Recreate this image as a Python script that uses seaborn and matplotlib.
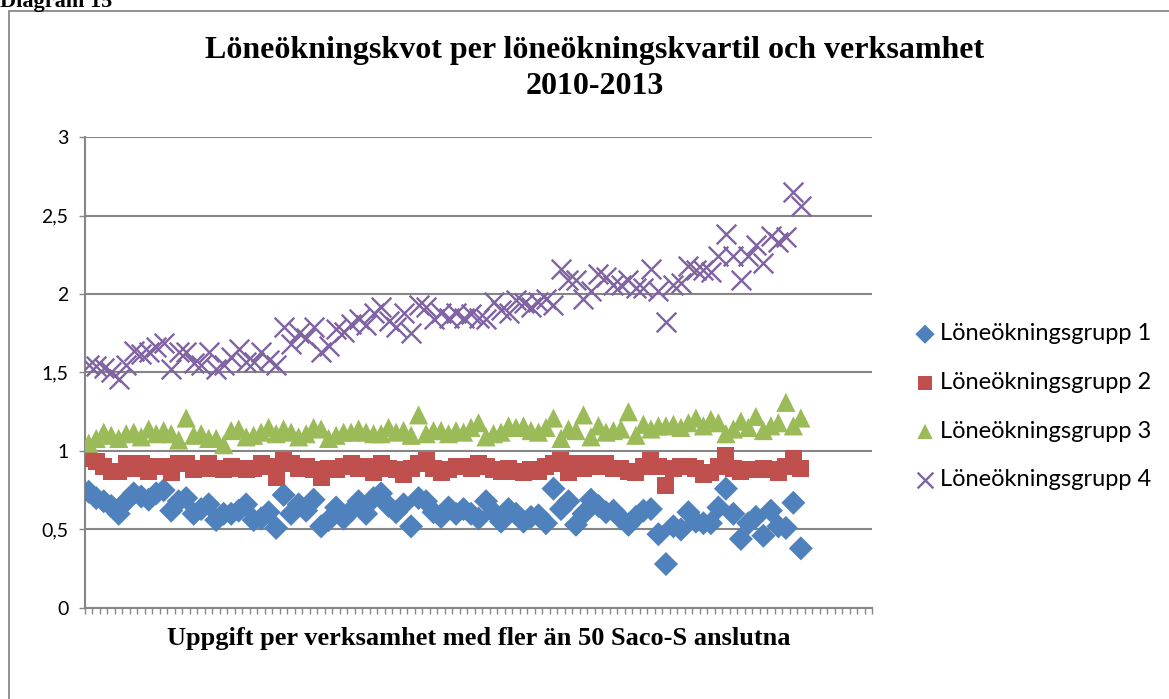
import numpy as np
import pandas as pd
import seaborn as sns
import matplotlib.pyplot as plt
from matplotlib.patches import Rectangle

# values, one per verksamhet (left to right)
grupp1 = [0.74, 0.70, 0.68, 0.65, 0.60, 0.68, 0.73, 0.71, 0.69, 0.73, 0.75, 0.62, 0.68, 0.70,
          0.60, 0.63, 0.66, 0.56, 0.60, 0.60, 0.62, 0.66, 0.56, 0.57, 0.61, 0.51, 0.72,
          0.60, 0.66, 0.62, 0.69, 0.52, 0.56, 0.64, 0.57, 0.62, 0.68, 0.60, 0.70, 0.73,
          0.65, 0.61, 0.66, 0.52, 0.70, 0.68, 0.61, 0.58, 0.64, 0.60, 0.63, 0.60,
          0.57, 0.68, 0.61, 0.55, 0.63, 0.60, 0.55, 0.58, 0.59, 0.54, 0.76, 0.63, 0.68,
          0.53, 0.60, 0.69, 0.65, 0.61, 0.62, 0.57, 0.53, 0.58, 0.62, 0.63, 0.47,
          0.28, 0.52, 0.50, 0.61, 0.55, 0.54, 0.54, 0.64, 0.76, 0.60, 0.44, 0.54, 0.58,
          0.46, 0.62, 0.52, 0.51, 0.67, 0.38]
grupp2 = [0.95, 0.93, 0.90, 0.87, 0.87, 0.92, 0.89, 0.92, 0.87, 0.90, 0.90, 0.86, 0.92, 0.92,
          0.88, 0.89, 0.92, 0.89, 0.88, 0.90, 0.89, 0.88, 0.89, 0.92, 0.90, 0.83, 0.94,
          0.92, 0.89, 0.90, 0.88, 0.83, 0.89, 0.88, 0.90, 0.92, 0.89, 0.90, 0.86, 0.92,
          0.89, 0.88, 0.85, 0.89, 0.92, 0.94, 0.89, 0.86, 0.88, 0.90, 0.90, 0.89,
          0.92, 0.90, 0.88, 0.87, 0.89, 0.87, 0.86, 0.88, 0.87, 0.90, 0.92, 0.94, 0.86,
          0.92, 0.89, 0.92, 0.90, 0.92, 0.89, 0.89, 0.87, 0.86, 0.90, 0.94, 0.90,
          0.78, 0.89, 0.90, 0.90, 0.89, 0.85, 0.86, 0.90, 0.97, 0.89, 0.87, 0.88, 0.88,
          0.89, 0.88, 0.86, 0.90, 0.95, 0.89]
grupp3 = [1.05, 1.08, 1.12, 1.10, 1.08, 1.11, 1.12, 1.09, 1.14, 1.11, 1.13, 1.11, 1.07, 1.21,
          1.10, 1.11, 1.08, 1.08, 1.04, 1.13, 1.14, 1.09, 1.10, 1.12, 1.15, 1.11, 1.14,
          1.12, 1.09, 1.11, 1.15, 1.14, 1.08, 1.10, 1.12, 1.12, 1.14, 1.12, 1.11, 1.11,
          1.15, 1.12, 1.13, 1.10, 1.23, 1.11, 1.13, 1.13, 1.11, 1.13, 1.12, 1.15,
          1.18, 1.09, 1.11, 1.12, 1.16, 1.15, 1.16, 1.13, 1.12, 1.15, 1.21, 1.08, 1.14,
          1.13, 1.23, 1.09, 1.16, 1.12, 1.13, 1.14, 1.25, 1.10, 1.17, 1.14, 1.16,
          1.16, 1.17, 1.15, 1.18, 1.21, 1.16, 1.20, 1.18, 1.11, 1.14, 1.19, 1.15, 1.22,
          1.13, 1.16, 1.18, 1.31, 1.16, 1.21]
grupp4 = [1.55, 1.54, 1.53, 1.50, 1.46, 1.55, 1.64, 1.62, 1.63, 1.66, 1.69, 1.52, 1.63, 1.63,
          1.56, 1.55, 1.63, 1.52, 1.55, 1.60, 1.65, 1.57, 1.57, 1.63, 1.58, 1.55, 1.79,
          1.68, 1.75, 1.72, 1.79, 1.63, 1.67, 1.78, 1.76, 1.81, 1.84, 1.80, 1.88, 1.92,
          1.83, 1.79, 1.88, 1.75, 1.93, 1.92, 1.84, 1.88, 1.85, 1.88, 1.85, 1.87,
          1.85, 1.84, 1.95, 1.90, 1.88, 1.96, 1.94, 1.92, 1.95, 1.97, 1.93, 2.16, 2.09,
          2.09, 1.97, 2.02, 2.13, 2.11, 2.06, 2.06, 2.09, 2.04, 2.04, 2.16, 2.02,
          1.82, 2.06, 2.07, 2.18, 2.15, 2.15, 2.14, 2.24, 2.38, 2.24, 2.09, 2.24, 2.31,
          2.20, 2.37, 2.33, 2.36, 2.65, 2.56]

series_names = ['Löneökningsgrupp 1', 'Löneökningsgrupp 2',
                'Löneökningsgrupp 3', 'Löneökningsgrupp 4']
y_ticks = [0, 0.5, 1, 1.5, 2, 2.5, 3]
y_tick_labels = ['0', '0,5', '1', '1,5', '2', '2,5', '3']
n_categories = 105

colors = ['#4F81BD', '#C0504D', '#9BBB59', '#8064A2']
markers = ['D', 's', '^', 'x']
sizes = [150, 150, 190, 200]

sns.set_style('white')
plt.rcParams['font.family'] = ['Lato', 'DejaVu Sans']
plt.rcParams['text.color'] = 'black'

frames = []
for name, vals in zip(series_names, [grupp1, grupp2, grupp3, grupp4]):
    frames.append(pd.DataFrame({'verksamhet': np.arange(len(vals)),
                                'kvot': vals, 'grupp': name}))
df = pd.concat(frames, ignore_index=True)

fig = plt.figure(figsize=(11.69, 6.99), dpi=100)
ax = fig.add_axes([0.0727, 0.1302, 0.6733, 0.6738])

for name, color, marker, size in zip(series_names, colors, markers, sizes):
    sub = df[df['grupp'] == name]
    if marker == 'x':
        sns.scatterplot(data=sub, x='verksamhet', y='kvot', color=color,
                        marker=marker, s=size, linewidth=1.7, label=name,
                        ax=ax, zorder=3)
    else:
        sns.scatterplot(data=sub, x='verksamhet', y='kvot', color=color,
                        marker=marker, s=size, linewidth=0, edgecolor='none',
                        label=name, ax=ax, zorder=3)

ax.set_ylim(0, 3)
ax.set_xlim(-0.5, n_categories - 0.5)
ax.set_yticks(y_ticks)
ax.set_yticklabels(y_tick_labels, fontsize=14)
ax.set_xticks(np.arange(-0.5, n_categories, 1))
ax.set_xticklabels([])
ax.tick_params(axis='both', direction='out', length=4, width=1,
               color='#868686', pad=8, bottom=True, left=True,
               labelcolor='black')
ax.yaxis.grid(True, color='#868686', linewidth=1.5)
ax.set_axisbelow(True)
for side in ['top', 'right']:
    ax.spines[side].set_visible(False)
for side in ['left', 'bottom']:
    ax.spines[side].set_color('#868686')
    ax.spines[side].set_linewidth(1.5)

ax.set_ylabel('')
ax.set_xlabel('Uppgift per verksamhet med fler än 50 Saco-S anslutna',
              fontsize=19, fontweight='bold', family='Liberation Serif',
              labelpad=2, color='black')

fig.text(0.509, 0.948, 'Löneökningskvot per löneökningskvartil och verksamhet\n2010-2013',
         ha='center', va='top', fontsize=23, fontweight='bold',
         family='Liberation Serif', linespacing=1.3, color='black')
fig.text(0.0, 1 - 7 / 699, 'Diagram 15', ha='left', va='baseline', fontsize=16,
         fontweight='bold', family='Liberation Serif', color='black')

fig.patches.append(Rectangle((9 / 1169, -0.05), 1.2, 1 - 11 / 699 + 0.05,
                             transform=fig.transFigure, fill=False,
                             edgecolor='#7F7F7F', linewidth=1.2))

leg = ax.legend(loc='center left', bbox_to_anchor=(0.762, 0.418),
                bbox_transform=fig.transFigure, frameon=False, fontsize=17,
                labelspacing=1.17, handletextpad=0.1, handlelength=1.1,
                markerscale=0.8)

fig.savefig('out.png', dpi=100)
